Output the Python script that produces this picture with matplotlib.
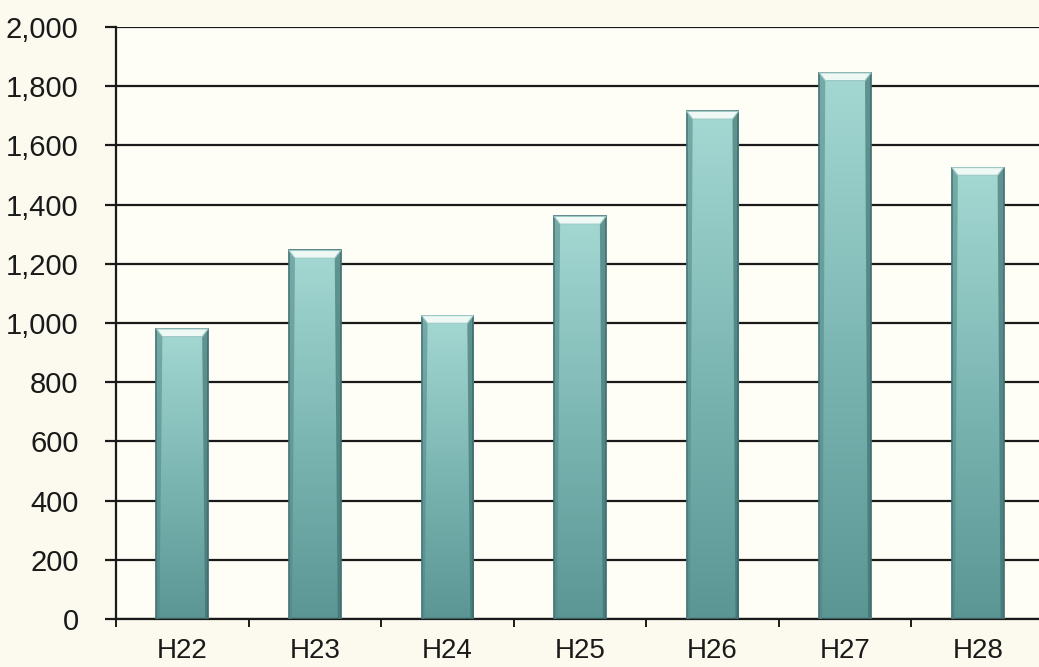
import numpy as np
import matplotlib
matplotlib.use('Agg')
import matplotlib.pyplot as plt
from matplotlib.patches import Polygon
from matplotlib.colors import LinearSegmentedColormap
from matplotlib.ticker import FuncFormatter, FixedLocator

years = ['H22', 'H23', 'H24', 'H25', 'H26', 'H27', 'H28']
values = [980, 1245, 1025, 1360, 1715, 1845, 1525]

plt.rcParams['font.family'] = ['Liberation Sans', 'DejaVu Sans']

fig = plt.figure(figsize=(10.39, 6.67), dpi=100)
fig.patch.set_facecolor('#fcfaee')
ax = fig.add_axes([116 / 1039, 48 / 667, 928 / 1039, 592 / 667])
ax.set_facecolor('#fefdf6')

x = np.arange(len(years))
width = 0.39
bars = ax.bar(x, values, width=width, color='none', edgecolor='#3f6f70',
              linewidth=1.2, zorder=3)

# vertical gradient inside each bar, light teal at top to darker at bottom
cmap = LinearSegmentedColormap.from_list('teal', ['#5c9694', '#7db7b4', '#a4d8d3'])
grad = np.linspace(0, 1, 256).reshape(-1, 1)
bevel_h = 26
bevel_w = 0.045
for xi, v, b in zip(x, values, bars):
    x0, x1 = xi - width / 2, xi + width / 2
    im = ax.imshow(grad, cmap=cmap, origin='lower', aspect='auto',
                   extent=[x0, x1, 0, v], zorder=2)
    im.set_clip_path(b)
    # shaded side strips
    ax.add_patch(Polygon([[x0, 0], [x0 + bevel_w * 0.5, 0],
                          [x0 + bevel_w, v - bevel_h], [x0, v]],
                         closed=True, facecolor='#4f8584', alpha=0.55,
                         edgecolor='none', zorder=4))
    ax.add_patch(Polygon([[x1, 0], [x1 - bevel_w * 0.5, 0],
                          [x1 - bevel_w, v - bevel_h], [x1, v]],
                         closed=True, facecolor='#3d6e6e', alpha=0.65,
                         edgecolor='none', zorder=4))
    # light cap on top
    ax.add_patch(Polygon([[x0, v], [x1, v], [x1 - bevel_w, v - bevel_h],
                          [x0 + bevel_w, v - bevel_h]],
                         closed=True, facecolor='#eef8f5', edgecolor='#9cc9c4',
                         linewidth=0.8, zorder=4))

ax.set_xlim(-0.5, 6.5)
ax.set_ylim(0, 2000)
ax.set_yticks(np.arange(0, 2001, 200))
ax.yaxis.set_major_formatter(FuncFormatter(lambda v, p: f'{int(v):,}'))
ax.yaxis.grid(True, color='#1a1a1a', linewidth=1.6, zorder=1)
ax.set_axisbelow(True)

ax.set_xticks(x)
ax.set_xticklabels(years)
ax.xaxis.set_minor_locator(FixedLocator(np.arange(-0.5, 7, 1.0)))
ax.tick_params(axis='x', which='major', length=0, pad=14, labelsize=20,
               colors='#1a1a1a')
ax.tick_params(axis='x', which='minor', length=6, width=1.4, direction='out',
               color='#1a1a1a')
ax.tick_params(axis='y', length=8, width=1.6, pad=19, labelsize=21,
               colors='#1a1a1a')

for side in ('top', 'right'):
    ax.spines[side].set_visible(False)
ax.spines['left'].set_linewidth(1.6)
ax.spines['bottom'].set_linewidth(1.6)
ax.spines['left'].set_color('#1a1a1a')
ax.spines['bottom'].set_color('#1a1a1a')

fig.savefig('out.png', dpi=100, facecolor=fig.get_facecolor())
